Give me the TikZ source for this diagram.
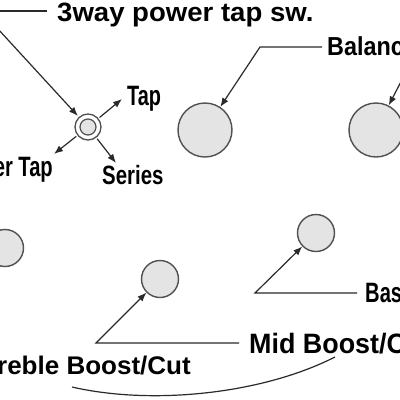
\documentclass[tikz,border=0pt]{standalone}
\usepackage{fontspec}
\setmainfont{Liberation Sans}
\usetikzlibrary{arrows.meta}
\definecolor{knobfill}{HTML}{E4E4E4}
\definecolor{knobline}{HTML}{505050}
\definecolor{leadcol}{HTML}{2A2A2A}
\tikzset{
  lbl/.style={inner sep=0pt, font=\fontsize{#1}{#1}\selectfont\bfseries, text=black},
  knob/.style={circle, draw=knobline, fill=knobfill, line width=1.4pt, inner sep=0pt, minimum size=#1},
  leader/.style={draw=leadcol, line width=1.2pt},
  arr/.style={leader, -{Latex[length=9pt,width=7pt]}},
}
\begin{document}
\begin{tikzpicture}[x=1pt,y=-1pt]
\useasboundingbox (0,0) rectangle (400,400);
\clip (0,0) rectangle (400,400);
\fill[white] (0,0) rectangle (400,400);

% knobs
\node[knob=54pt] (bal1) at (205,130) {};
\node[knob=54pt] (bal2) at (376,130) {};
\node[knob=37pt] (knl) at (5,248) {};
\node[knob=37pt] (kmid) at (160,279) {};
\node[knob=37pt] (kbass) at (316,233) {};
% switch
\node[circle, draw=knobline, line width=1.3pt, fill=white, minimum size=26pt, inner sep=0pt, outer sep=2pt] (sw) at (88,127) {};
\node[knob=16pt, line width=1.2pt] (swin) at (88,127) {};

% labels
\node[lbl=26.5, anchor=base west] (t3way) at (57,21) {\scalebox{1.04}[1]{3way power tap sw.}};
\node[lbl=26, anchor=base west] (tbal) at (327,55) {\scalebox{0.9}[1]{Balance}};
\node[lbl=28, anchor=base west] (ttap) at (127,105) {\scalebox{0.71}[1]{Tap}};
\node[lbl=28, anchor=base east] (tptap) at (53,176) {\scalebox{0.72}[1]{Power Tap}};
\node[lbl=26.5, anchor=base west] (tser) at (102,184) {\scalebox{0.77}[1]{Series}};
\node[lbl=25.5, anchor=base east] (ttreb) at (191,374) {\scalebox{1.02}[1]{Treble Boost/Cut}};
\node[lbl=28, anchor=base west] (tmid) at (249,353) {\scalebox{0.96}[1]{Mid Boost/Cut}};
\node[lbl=28, anchor=base west] (tbass) at (365,302) {\scalebox{0.72}[1]{Bass}};

% coordinates
\coordinate (c3a) at (-2,11);
\coordinate (c3b) at (47,11);
\coordinate (c3c) at (-2,29);
\coordinate (cb0) at (322,47);
\coordinate (cb1) at (260,47);
\coordinate (cb2) at (406,72);
\coordinate (cm0) at (239,343);
\coordinate (cm1) at (96,343);
\coordinate (cs0) at (357,293);
\coordinate (cs1) at (255,293);
\coordinate (ctap) at (122,99);
\coordinate (cptap) at (54,154);
\coordinate (cser) at (116,163);
\coordinate (cv0) at (72,387);
\coordinate (cv1) at (335,357);

% leaders
\draw[leader] (c3a) -- (c3b);
\draw[arr] (c3c) -- (sw);
\draw[arr] (cb0) -- (cb1) -- (bal1);
\draw[arr] (cb2) -- (bal2);
\draw[arr] (cm0) -- (cm1) -- (kmid);
\draw[arr] (cs0) -- (cs1) -- (kbass);
\draw[arr] (sw) -- (ctap);
\draw[arr] (sw) -- (cptap);
\draw[arr] (sw) -- (cser);
\draw[leader] (cv0) .. controls (150,405) and (260,395) .. (cv1);
\end{tikzpicture}
\end{document}
